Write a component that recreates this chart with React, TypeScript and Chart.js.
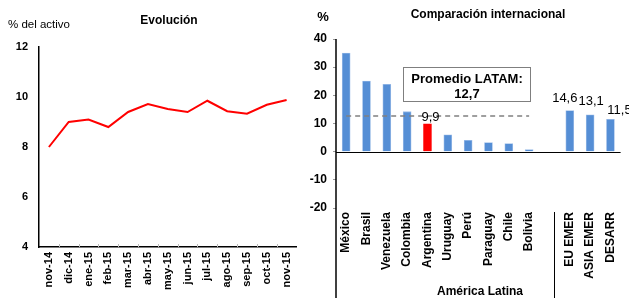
import React, { useEffect, useRef } from "react";
import { Chart, registerables } from "chart.js";

Chart.register(...registerables);

const months = ["nov-14", "dic-14", "ene-15", "feb-15", "mar-15", "abr-15", "may-15", "jun-15", "jul-15", "ago-15", "sep-15", "oct-15", "nov-15"];
const evolucion = [8.0, 9.0, 9.1, 8.8, 9.4, 9.72, 9.52, 9.4, 9.85, 9.43, 9.33, 9.69, 9.88];
const leftTicks = [4, 6, 8, 10, 12];

const countries = ["México", "Brasil", "Venezuela", "Colombia", "Argentina", "Uruguay", "Perú", "Paraguay", "Chile", "Bolivia", "", "EU EMER", "ASIA EMER", "DESARR"];
const comparacion = [35.0, 25.1, 23.9, 14.2, 9.9, 6.0, 4.0, 3.2, 2.9, 0.7, null, 14.6, 13.1, 11.5];
const promedioLatam = 12.7;
const latamCount = 10;
const labeledBars = [4, 11, 12, 13];
const rightTicks = [-20, -10, 0, 10, 20, 30, 40];

const FONT = "'Liberation Sans', Arial, sans-serif";
const BLUE = "#558ED5";
const RED = "#FF0000";

// label nudges (dx, dy) relative to bar top, in px
const labelNudge: Record<number, [number, number]> = {
  4: [3, -3],
  11: [-5, -9],
  12: [1, -10],
  13: [9, -5],
};

const fmt = (v: number) => v.toFixed(1).replace(".", ",");

export default function App() {
  const leftRef = useRef<HTMLCanvasElement>(null);
  const rightRef = useRef<HTMLCanvasElement>(null);

  useEffect(() => {
    const leftText = {
      id: "leftText",
      afterDraw(chart: any) {
        const ctx = chart.ctx;
        ctx.save();
        ctx.fillStyle = "#000";
        ctx.textBaseline = "alphabetic";
        ctx.font = `bold 12px ${FONT}`;
        ctx.textAlign = "center";
        ctx.fillText("Evolución", 169, 24);
        ctx.font = `11.5px ${FONT}`;
        ctx.textAlign = "left";
        ctx.fillText("% del activo", 8, 28);
        const xs = chart.scales.x;
        const y0 = chart.chartArea.bottom;
        ctx.strokeStyle = "#bbb";
        ctx.lineWidth = 1;
        for (let i = 1; i < months.length; i++) {
          const x = Math.round((xs.getPixelForValue(i - 1) + xs.getPixelForValue(i)) / 2) + 0.5;
          ctx.beginPath();
          ctx.moveTo(x, y0);
          ctx.lineTo(x, y0 - 3);
          ctx.stroke();
        }
        ctx.restore();
      },
    };

    const left = new Chart(leftRef.current!, {
      type: "line",
      data: {
        labels: months,
        datasets: [
          {
            data: evolucion,
            borderColor: RED,
            borderWidth: 2,
            pointRadius: 0,
            tension: 0,
          },
        ],
      },
      options: {
        animation: false,
        responsive: false,
        layout: { padding: { top: 47, right: 5, left: 0, bottom: 0 } },
        plugins: { legend: { display: false }, tooltip: { enabled: false } },
        scales: {
          x: {
            offset: true,
            grid: { display: false, drawTicks: false, tickLength: 0 },
            border: { color: "#000", width: 1.5 },
            ticks: {
              color: "#000",
              font: { family: FONT, size: 11, weight: "bold" },
              maxRotation: 90,
              minRotation: 90,
              padding: 5,
              autoSkip: false,
            },
            afterFit: (s: any) => {
              s.height = 51;
            },
          },
          y: {
            min: 4,
            max: 12,
            afterBuildTicks: (s: any) => {
              s.ticks = leftTicks.map((v) => ({ value: v }));
            },
            grid: { display: false, drawTicks: false, tickLength: 0 },
            border: { color: "#000", width: 1.5 },
            ticks: {
              color: "#000",
              font: { family: FONT, size: 11, weight: "bold" },
              padding: 11,
            },
            afterFit: (s: any) => {
              s.width = 39;
            },
          },
        },
      },
      plugins: [leftText],
    } as any);

    const rightText = {
      id: "rightText",
      afterDatasetsDraw(chart: any) {
        const ctx = chart.ctx;
        const xs = chart.scales.x;
        const ys = chart.scales.y;
        const area = chart.chartArea;
        const H = chart.height;
        ctx.save();
        const yz = Math.round(ys.getPixelForValue(0)) + 0.5;
        ctx.strokeStyle = "#000";
        ctx.lineWidth = 1;
        ctx.beginPath();
        ctx.moveTo(area.left, yz);
        ctx.lineTo(area.right, yz);
        ctx.stroke();
        ctx.lineWidth = 1.5;
        ctx.beginPath();
        ctx.moveTo(area.left, area.top);
        ctx.lineTo(area.left, H);
        ctx.stroke();
        const sx = Math.round(xs.getPixelForValue(10)) + 5.5;
        ctx.lineWidth = 1;
        ctx.beginPath();
        ctx.moveTo(sx, area.bottom + 4);
        ctx.lineTo(sx, H);
        ctx.stroke();
        ctx.fillStyle = "#000";
        ctx.textBaseline = "alphabetic";
        ctx.font = `bold 12px ${FONT}`;
        ctx.textAlign = "center";
        ctx.fillText("Comparación internacional", 188, 18);
        ctx.font = `bold 13px ${FONT}`;
        ctx.fillText("%", 23, 21);
        ctx.font = `bold 12px ${FONT}`;
        ctx.fillText("América Latina", 180, 295);
        ctx.font = `13px ${FONT}`;
        labeledBars.forEach((i) => {
          const v = comparacion[i] as number;
          const [dx, dy] = labelNudge[i] || [0, -4];
          ctx.fillText(fmt(v), xs.getPixelForValue(i) + dx, ys.getPixelForValue(v) + dy);
        });
        const bx = 103.5, by = 67.5, bw = 127, bh = 34;
        ctx.fillStyle = "#fff";
        ctx.fillRect(bx, by, bw, bh);
        ctx.strokeStyle = "#7f7f7f";
        ctx.lineWidth = 1;
        ctx.strokeRect(bx, by, bw, bh);
        ctx.fillStyle = "#000";
        ctx.font = `bold 13px ${FONT}`;
        ctx.fillText("Promedio LATAM:", bx + bw / 2, by + 15);
        ctx.fillText(fmt(promedioLatam), bx + bw / 2, by + 30);
        ctx.restore();
      },
    };

    const right = new Chart(rightRef.current!, {
      type: "bar",
      data: {
        labels: countries,
        datasets: [
          {
            type: "line",
            data: countries.map((_, i) => (i < latamCount ? promedioLatam : null)),
            borderColor: "#808080",
            borderWidth: 1.5,
            borderDash: [5, 4],
            pointRadius: 0,
            spanGaps: false,
            order: 0,
          },
          {
            type: "bar",
            data: comparacion,
            backgroundColor: countries.map((c) => (c === "Argentina" ? RED : BLUE)),
            borderColor: countries.map((c) => (c === "Argentina" ? RED : "#9DBDE8")),
            borderWidth: 0.8,
            barThickness: 8,
            order: 1,
          },
        ],
      },
      options: {
        animation: false,
        responsive: false,
        layout: { padding: { top: 39, right: 4, left: 0, bottom: 0 } },
        plugins: { legend: { display: false }, tooltip: { enabled: false } },
        scales: {
          x: {
            grid: { display: false, drawTicks: false, tickLength: 0 },
            border: { display: false },
            ticks: {
              color: "#000",
              font: { family: FONT, size: 12, weight: "bold" },
              maxRotation: 90,
              minRotation: 90,
              padding: 4,
              autoSkip: false,
            },
            afterFit: (s: any) => {
              s.height = 90;
            },
          },
          y: {
            min: -20,
            max: 40,
            afterBuildTicks: (s: any) => {
              s.ticks = rightTicks.map((v) => ({ value: v }));
            },
            grid: { drawOnChartArea: false, tickLength: 3, color: "#999" },
            border: { display: false },
            ticks: {
              color: "#000",
              font: { family: FONT, size: 12, weight: "bold" },
              padding: 6,
            },
            afterFit: (s: any) => {
              s.width = 36;
            },
          },
        },
      },
      plugins: [rightText],
    } as any);

    return () => {
      left.destroy();
      right.destroy();
    };
  }, []);

  return (
    <div style={{ position: "absolute", left: 0, top: 0, width: 629, height: 298, background: "#fff", overflow: "hidden" }}>
      <canvas ref={leftRef} width={305} height={298} style={{ position: "absolute", left: 0, top: 0 }} />
      <canvas ref={rightRef} width={329} height={298} style={{ position: "absolute", left: 300, top: 0 }} />
    </div>
  );
}
